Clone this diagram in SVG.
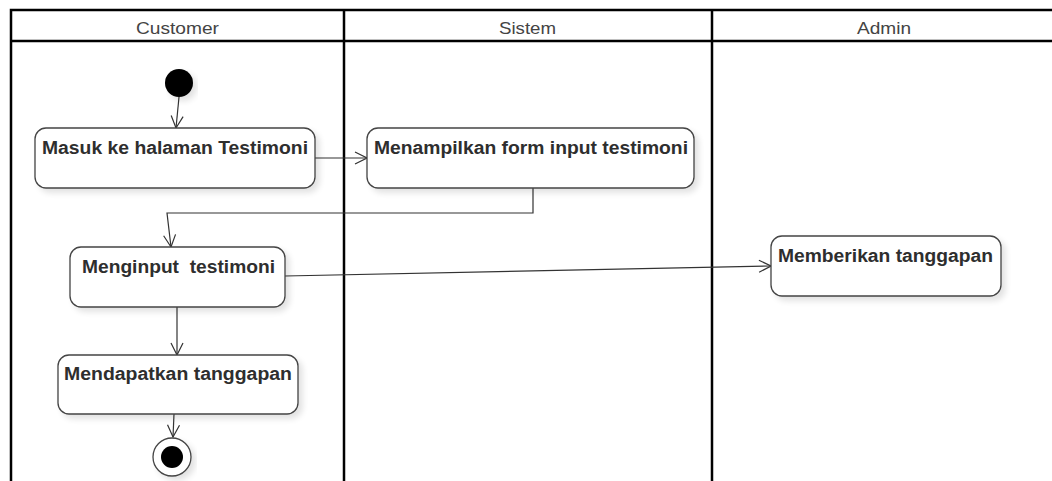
<svg xmlns="http://www.w3.org/2000/svg" width="1052" height="481" viewBox="0 0 1052 481">
  <style>
    .lane { stroke: #000; stroke-width: 2.5; fill: none; }
    .lane-title { font-family: "Liberation Sans", Arial, sans-serif; font-size: 17px; fill: #444; }
    .act { fill: #fff; stroke: #444; stroke-width: 1.3; filter: url(#shadow); }
    .act-label { font-family: "Liberation Sans", Arial, sans-serif; font-size: 18px; font-weight: bold; fill: #2e2e2e; }
    .flow { stroke: #333; stroke-width: 1.2; fill: none; marker-end: url(#open); }
  </style>
  <defs>
    <filter id="shadow" x="-10%" y="-20%" width="125%" height="150%">
      <feGaussianBlur in="SourceAlpha" stdDeviation="3"/>
      <feOffset dx="4" dy="4" result="blur"/>
      <feComponentTransfer><feFuncA type="linear" slope="0.12"/></feComponentTransfer>
      <feMerge><feMergeNode/><feMergeNode in="SourceGraphic"/></feMerge>
    </filter>
    <marker id="open" viewBox="0 0 14 14" refX="13" refY="7" markerWidth="14" markerHeight="14" markerUnits="userSpaceOnUse" orient="auto">
      <path d="M1,1 L13,7 L1,13" fill="none" stroke="#333" stroke-width="1.2"/>
    </marker>
  </defs>

  <rect width="1052" height="481" fill="#fff"/>

  <!-- swimlanes -->
  <g id="lanes">
    <path class="lane" d="M11,481 V10 H1052 M11,41 H1052 M344,10 V481 M712,10 V481"/>
    <text class="lane-title" x="136" y="34" textLength="83" lengthAdjust="spacingAndGlyphs">Customer</text>
    <text class="lane-title" x="499" y="34" textLength="57" lengthAdjust="spacingAndGlyphs">Sistem</text>
    <text class="lane-title" x="857" y="34" textLength="54" lengthAdjust="spacingAndGlyphs">Admin</text>
  </g>

  <!-- control flows -->
  <g id="connectors">
    <path class="flow" d="M179,97 L176,128"/>
    <path class="flow" d="M315,158 H367"/>
    <path class="flow" d="M533,188 V213 H167 L171,247"/>
    <path class="flow" d="M285,276 L771,266"/>
    <path class="flow" d="M177,307 V355"/>
    <path class="flow" d="M174,414 L173,437"/>
  </g>

  <g id="start">
    <circle cx="179" cy="83" r="14" fill="#000" filter="url(#shadow)"/>
  </g>

  <g id="masuk-testimoni">
    <rect class="act" x="35" y="128" width="280" height="60" rx="11"/>
    <text class="act-label" x="42" y="154" textLength="266" lengthAdjust="spacingAndGlyphs">Masuk ke halaman Testimoni</text>
  </g>

  <g id="menampilkan-form">
    <rect class="act" x="367" y="128" width="327" height="60" rx="11"/>
    <text class="act-label" x="374" y="154" textLength="314" lengthAdjust="spacingAndGlyphs">Menampilkan form input testimoni</text>
  </g>

  <g id="menginput-testimoni">
    <rect class="act" x="70" y="247" width="215" height="60" rx="11"/>
    <text class="act-label" x="82" y="273" textLength="193" lengthAdjust="spacingAndGlyphs" xml:space="preserve">Menginput  testimoni</text>
  </g>

  <g id="memberikan-tanggapan">
    <rect class="act" x="771" y="236" width="230" height="60" rx="11"/>
    <text class="act-label" x="778" y="262" textLength="215" lengthAdjust="spacingAndGlyphs">Memberikan tanggapan</text>
  </g>

  <g id="mendapatkan-tanggapan">
    <rect class="act" x="58" y="355" width="240" height="59" rx="11"/>
    <text class="act-label" x="64" y="380" textLength="228" lengthAdjust="spacingAndGlyphs">Mendapatkan tanggapan</text>
  </g>

  <g id="end">
    <circle cx="172" cy="457" r="19" fill="#fff" stroke="#444" stroke-width="1.3" filter="url(#shadow)"/>
    <circle cx="172" cy="457" r="11" fill="#000"/>
  </g>
</svg>
